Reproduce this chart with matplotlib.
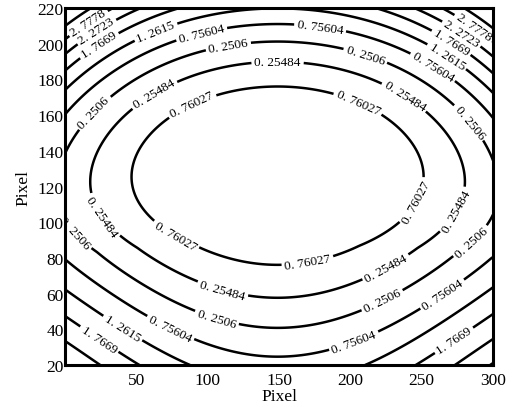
import numpy as np
import matplotlib
matplotlib.use("Agg")
import matplotlib.pyplot as plt

# ---- data -------------------------------------------------------------
levels = [-0.76027, -0.25484, 0.2506, 0.75604, 1.2615, 1.7669, 2.2723, 2.7778]
level_text = ["0. 76027", "0. 25484", "0. 2506", "0. 75604",
              "1. 2615", "1. 7669", "2. 2723", "2. 7778"]
extra_levels = [3.2833]          # unlabeled corner contour
x_ticks = [50, 100, 150, 200, 250, 300]
y_ticks = [20, 40, 60, 80, 100, 120, 140, 160, 180, 200, 220]
x_range = (0, 300)
y_range = (20, 220)

# bowl-shaped surface parameters
x_center = 149.0
y_center = 127.0
x_scale = 115.7
y_scale = 55.4
lower_stretch = 0.0035
corner_gain = 0.12
center_sag = 2.6
f_min = -1.543

# approximate label anchor points for each level (layout)
label_pos = [
    [(90, 164), (205, 166), (78, 93), (170, 78), (247, 111)],
    [(60, 175), (149, 191), (240, 173), (24, 102), (279, 104), (230, 67), (109, 58)],
    [(21, 161), (114, 201), (212, 197), (285, 157), (289, 85), (8, 95), (228, 47), (104, 40)],
    [(95, 208), (179, 210), (261, 191), (270, 53), (205, 28), (71, 36)],
    [(64, 206), (271, 197), (36, 35)],
    [(24, 199), (275, 206), (22, 32), (270, 37)],
    [(22, 207), (284, 213)],
    [(16, 212), (289, 212)],
]

# ---- field --------------------------------------------------------------
xg = np.linspace(x_range[0], x_range[1], 601)
yg = np.linspace(y_range[0], y_range[1], 401)
X, Y = np.meshgrid(xg, yg)
dx = X - x_center
U = (dx / x_scale) ** 2
dy = Y - (y_center - center_sag * U ** 2)
d = np.abs(dy)
dy_eff = np.where(dy < 0, d / (1 + lower_stretch * np.maximum(d - 40, 0)), d)
V = (dy_eff / y_scale) ** 2
F = f_min + U + V + corner_gain * U * V

# ---- plot ---------------------------------------------------------------
plt.rcParams['font.family'] = ['Liberation Serif', 'DejaVu Serif']
plt.rcParams['contour.negative_linestyle'] = 'solid'
fig = plt.figure(figsize=(5.28, 4.14), dpi=100)
ax = fig.add_axes([0.1231, 0.1159, 0.8106, 0.8624])

for lev, txt, pos in zip(levels, level_text, label_pos):
    cs = ax.contour(X, Y, F, levels=[lev], colors='black', linewidths=1.8,
                    linestyles='solid')
    ax.clabel(cs, levels=[lev], fmt={lev: txt}, manual=pos, inline=True,
              inline_spacing=3, fontsize=9.5, colors='black')
ax.contour(X, Y, F, levels=extra_levels, colors='black', linewidths=1.8,
           linestyles='solid')

ax.set_xlim(*x_range)
ax.set_ylim(*y_range)
ax.set_xticks(x_ticks)
ax.set_yticks(y_ticks)
ax.tick_params(length=0, labelsize=12.5, pad=5)
ax.tick_params(axis='y', pad=1)
for s in ax.spines.values():
    s.set_linewidth(2.2)
ax.set_xlabel('Pixel', fontsize=12.5, labelpad=0)
ax.set_ylabel('Pixel', fontsize=12.5, labelpad=4)

fig.savefig('out.png', dpi=100)
